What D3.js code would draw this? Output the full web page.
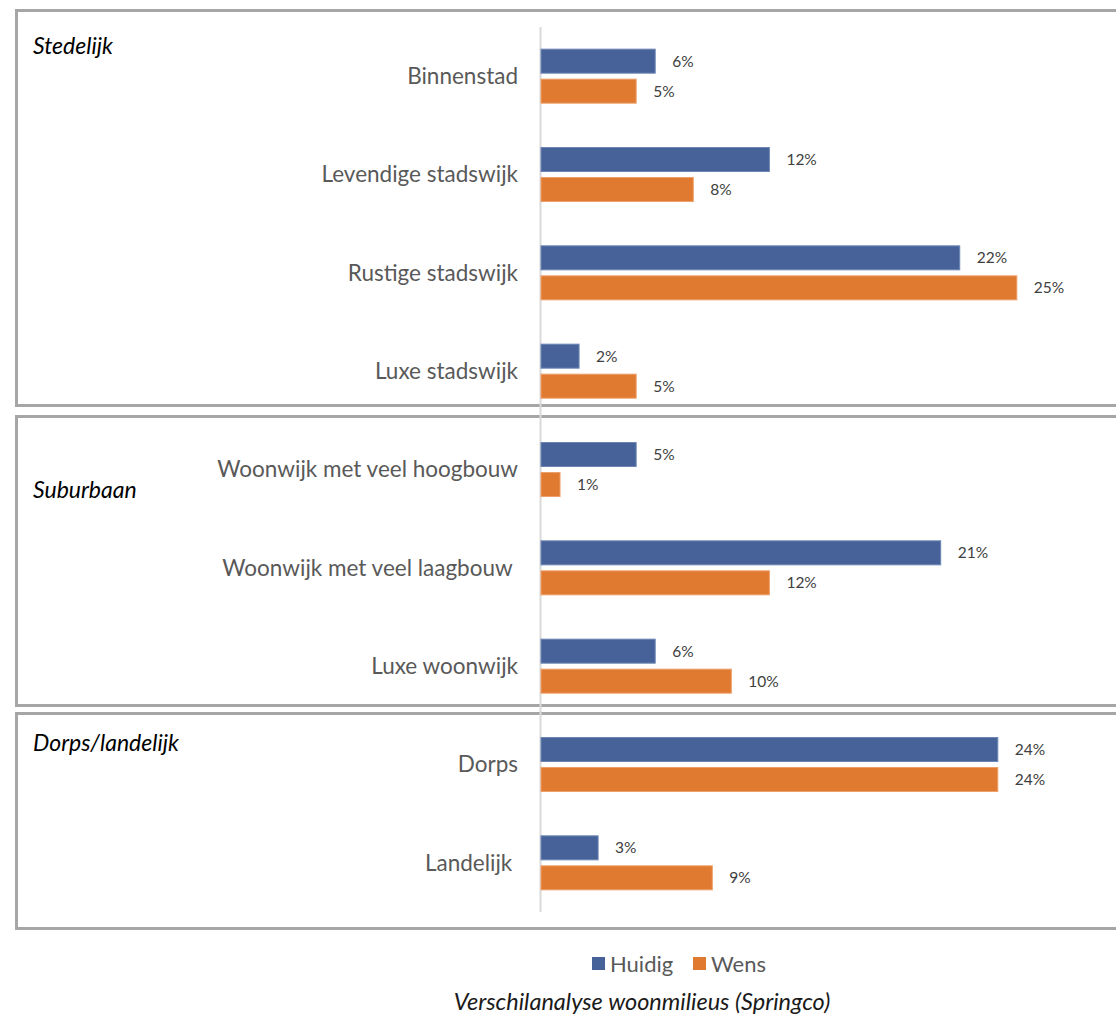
<!DOCTYPE html>
<html>
<head>
<meta charset="utf-8">
<script src="https://cdn.jsdelivr.net/npm/d3@7"></script>
<style>
  html, body { margin: 0; padding: 0; background: #ffffff; }
  svg { display: block; }
  text { font-family: Lato, "Open Sans", "Noto Sans", sans-serif; white-space: pre; }
</style>
</head>
<body>
<svg id="chart" width="1116" height="1015"></svg>
<script>
// Woonmilieus: huidige verdeling versus wens
const categories = [
  "Binnenstad",
  "Levendige stadswijk",
  "Rustige stadswijk",
  "Luxe stadswijk",
  "Woonwijk met veel hoogbouw",
  "Woonwijk met veel laagbouw ",
  "Luxe woonwijk",
  "Dorps",
  "Landelijk "
];
const huidig = [0.06, 0.12, 0.22, 0.02, 0.05, 0.21, 0.06, 0.24, 0.03];
const wens   = [0.05, 0.08, 0.25, 0.05, 0.01, 0.12, 0.10, 0.24, 0.09];

const seriesNames = ["Huidig", "Wens"];
const seriesColors = ["#476298", "#e07a31"];

// Groepen van woonmilieus
const groupNames = ["Stedelijk", "Suburbaan", "Dorps/landelijk"];

const caption = "Verschilanalyse woonmilieus (Springco)";

const svg = d3.select("#chart");

const x = d3.scaleLinear().domain([0, 0.30]).range([541, 1112]);
const y = d3.scaleBand().domain(categories).range([27, 912]).padding(0);
const barH = 24, barGap = 6;
const pct = d3.format(".0%");

// Group frames
const frames = [
  { top: 10,  bottom: 405 },
  { top: 416, bottom: 705 },
  { top: 713, bottom: 928 }
];
svg.append("g").selectAll("rect")
  .data(frames)
  .join("rect")
  .attr("x", 16.5)
  .attr("y", d => d.top + 0.5)
  .attr("width", 1116)
  .attr("height", d => d.bottom - d.top)
  .attr("fill", "none")
  .attr("stroke", "#a6a6a6")
  .attr("stroke-width", 3);

// Group titles
const groupTitleY = [54, 498, 751];
svg.append("g").selectAll("text")
  .data(groupNames)
  .join("text")
  .attr("x", 33)
  .attr("y", (d, i) => groupTitleY[i])
  .attr("font-size", 23)
  .attr("font-style", "italic")
  .attr("fill", "#000000")
  .text(d => d);

// Vertical category axis line
svg.append("line")
  .attr("x1", x(0) - 0.5).attr("x2", x(0) - 0.5)
  .attr("y1", y.range()[0]).attr("y2", y.range()[1])
  .attr("stroke", "#d9d9d9")
  .attr("stroke-width", 2);

// Category labels
const yAxis = d3.axisLeft(y).tickSize(0).tickPadding(23);
const gy = svg.append("g").attr("transform", `translate(${x(0)},0)`).call(yAxis);
gy.select(".domain").remove();
gy.selectAll("text")
  .attr("font-family", "Lato, 'Open Sans', sans-serif")
  .attr("font-size", 22.5)
  .attr("fill", "#595959")
  .attr("dy", "0.35em");

// Bars
const rows = categories.map((c, i) => ({ cat: c, values: [huidig[i], wens[i]] }));
const offsets = [-(barGap / 2 + barH), barGap / 2];

const rowG = svg.append("g").selectAll("g")
  .data(rows)
  .join("g")
  .attr("transform", d => `translate(0,${y(d.cat) + y.bandwidth() / 2})`);

rowG.selectAll("rect")
  .data(d => d.values.map((v, s) => ({ v, s })))
  .join("rect")
  .attr("x", x(0))
  .attr("y", d => offsets[d.s])
  .attr("width", d => x(d.v) - x(0))
  .attr("height", barH)
  .attr("fill", d => seriesColors[d.s])
  .attr("stroke", d => d.s === 0 ? "#6d86b5" : "#eea06a")
  .attr("stroke-width", 1);

rowG.selectAll("text")
  .data(d => d.values.map((v, s) => ({ v, s })))
  .join("text")
  .attr("x", d => x(d.v) + 17)
  .attr("y", d => offsets[d.s] + barH / 2)
  .attr("dy", "0.35em")
  .attr("font-size", 15.5)
  .attr("fill", "#404040")
  .text(d => pct(d.v));

// Legend
const legendX = [592, 693];
const legend = svg.append("g").selectAll("g")
  .data(seriesNames)
  .join("g")
  .attr("transform", (d, i) => `translate(${legendX[i]},957)`);
legend.append("rect")
  .attr("width", 13).attr("height", 13)
  .attr("fill", (d, i) => seriesColors[i]);
legend.append("text")
  .attr("x", 18)
  .attr("y", 15)
  .attr("font-size", 22)
  .attr("fill", "#595959")
  .text(d => d);

// Caption
svg.append("text")
  .attr("x", 642)
  .attr("y", 1010)
  .attr("text-anchor", "middle")
  .attr("font-size", 23.5)
  .attr("font-style", "italic")
  .attr("fill", "#1a1a1a")
  .text(caption);
</script>
</body>
</html>
